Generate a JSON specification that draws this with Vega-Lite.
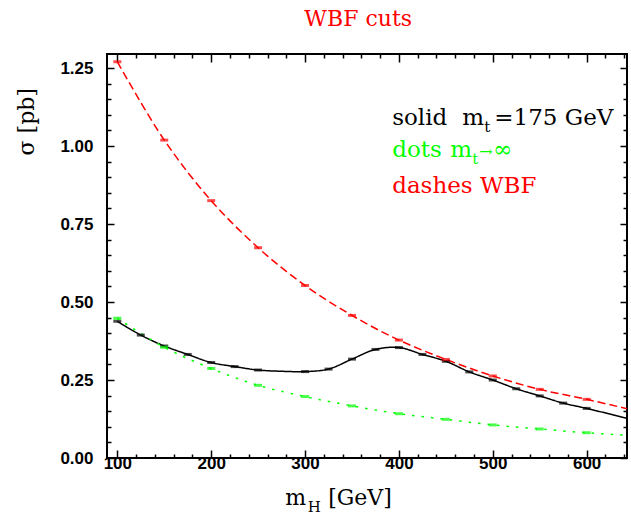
{
  "$schema": "https://vega.github.io/schema/vega-lite/v6.json",
  "width": 520,
  "height": 404,
  "autosize": {"type": "none"},
  "padding": {"left": 107, "top": 54, "right": 4, "bottom": 58},
  "background": "white",
  "config": {
    "view": {"stroke": "black", "strokeWidth": 2},
    "axis": {"grid": false, "domain": false, "tickColor": "black", "tickWidth": 1.5, "labelColor": "black", "labelFont": "Liberation Sans", "labelFontWeight": "bold", "labelFontSize": 17, "labelOverlap": false, "labelFlush": false, "title": null}
  },
  "datasets": {
    "curves": [
      {"m": 100, "s": 0.438, "series": "solid", "marker": true},
      {"m": 125, "s": 0.394, "series": "solid", "marker": true},
      {"m": 150, "s": 0.359, "series": "solid", "marker": true},
      {"m": 175, "s": 0.332, "series": "solid", "marker": true},
      {"m": 200, "s": 0.306, "series": "solid", "marker": true},
      {"m": 225, "s": 0.293, "series": "solid", "marker": true},
      {"m": 250, "s": 0.282, "series": "solid", "marker": true},
      {"m": 275, "s": 0.278, "series": "solid", "marker": false},
      {"m": 300, "s": 0.277, "series": "solid", "marker": true},
      {"m": 325, "s": 0.285, "series": "solid", "marker": true},
      {"m": 350, "s": 0.317, "series": "solid", "marker": true},
      {"m": 375, "s": 0.348, "series": "solid", "marker": true},
      {"m": 400, "s": 0.354, "series": "solid", "marker": true},
      {"m": 425, "s": 0.332, "series": "solid", "marker": true},
      {"m": 450, "s": 0.310, "series": "solid", "marker": true},
      {"m": 475, "s": 0.276, "series": "solid", "marker": true},
      {"m": 500, "s": 0.250, "series": "solid", "marker": true},
      {"m": 525, "s": 0.222, "series": "solid", "marker": true},
      {"m": 550, "s": 0.199, "series": "solid", "marker": true},
      {"m": 575, "s": 0.176, "series": "solid", "marker": true},
      {"m": 600, "s": 0.159, "series": "solid", "marker": true},
      {"m": 650, "s": 0.122, "series": "solid", "marker": false},
      {"m": 100, "s": 0.448, "series": "dots", "marker": true},
      {"m": 150, "s": 0.355, "series": "dots", "marker": true},
      {"m": 200, "s": 0.287, "series": "dots", "marker": true},
      {"m": 250, "s": 0.233, "series": "dots", "marker": true},
      {"m": 300, "s": 0.197, "series": "dots", "marker": true},
      {"m": 350, "s": 0.167, "series": "dots", "marker": true},
      {"m": 400, "s": 0.142, "series": "dots", "marker": true},
      {"m": 450, "s": 0.124, "series": "dots", "marker": true},
      {"m": 500, "s": 0.106, "series": "dots", "marker": true},
      {"m": 550, "s": 0.093, "series": "dots", "marker": true},
      {"m": 600, "s": 0.081, "series": "dots", "marker": true},
      {"m": 650, "s": 0.072, "series": "dots", "marker": false},
      {"m": 100, "s": 1.270, "series": "dashes", "marker": true},
      {"m": 150, "s": 1.019, "series": "dashes", "marker": true},
      {"m": 200, "s": 0.825, "series": "dashes", "marker": true},
      {"m": 250, "s": 0.674, "series": "dashes", "marker": true},
      {"m": 300, "s": 0.553, "series": "dashes", "marker": true},
      {"m": 350, "s": 0.457, "series": "dashes", "marker": true},
      {"m": 400, "s": 0.378, "series": "dashes", "marker": true},
      {"m": 450, "s": 0.316, "series": "dashes", "marker": true},
      {"m": 500, "s": 0.263, "series": "dashes", "marker": true},
      {"m": 550, "s": 0.220, "series": "dashes", "marker": true},
      {"m": 600, "s": 0.188, "series": "dashes", "marker": true},
      {"m": 650, "s": 0.153, "series": "dashes", "marker": false}
    ],
    "legendText": [
      {"x": 392.8, "y": 1.066, "t": "solid", "series": "solid"},
      {"x": 467.5, "y": 1.066, "t": "m", "series": "solid"},
      {"x": 501.6, "y": 1.066, "t": "=175 GeV", "series": "solid"},
      {"x": 392.8, "y": 0.964, "t": "dots", "series": "dots"},
      {"x": 454.7, "y": 0.964, "t": "m", "series": "dots"},
      {"x": 500.5, "y": 0.964, "t": "∞", "series": "dots"},
      {"x": 392.8, "y": 0.848, "t": "dashes WBF", "series": "dashes"}
    ],
    "mainText": [
      {"x": 278.8, "y": -0.152, "t": "m", "series": "solid"},
      {"x": 324.6, "y": -0.152, "t": "[GeV]", "series": "solid"}
    ],
    "subText": [
      {"x": 490.9, "y": 1.066, "t": "t", "series": "solid"},
      {"x": 478.0, "y": 0.964, "t": "t", "series": "dots"},
      {"x": 303.0, "y": -0.152, "t": "H", "series": "solid"}
    ],
    "smallText": [
      {"x": 485.6, "y": 0.964, "t": "→", "series": "dots"}
    ],
    "yTitle": [
      {"x": 11.2, "y": 0.970, "t": "σ [pb]", "series": "solid"}
    ],
    "titleText": [
      {"x": 356.6, "y": 1.384, "t": "WBF cuts", "series": "dashes"}
    ]
  },
  "layer": [
    {
      "data": {"name": "curves"},
      "mark": {"type": "line", "interpolate": "catmull-rom", "strokeWidth": 1.5, "clip": true},
      "encoding": {
        "x": {"field": "m", "type": "quantitative", "scale": {"domain": [89, 643], "nice": false, "zero": false},
          "axis": {"orient": "bottom", "values": [100,120,140,160,180,200,220,240,260,280,300,320,340,360,380,400,420,440,460,480,500,520,540,560,580,600,620,640],
            "labelExpr": "datum.value % 100 === 0 ? datum.label : ''",
            "tickSize": {"condition": {"test": "datum.value % 100 === 0", "value": -8}, "value": -4},
            "labelPadding": 5}},
        "y": {"field": "s", "type": "quantitative", "scale": {"domain": [0, 1.295], "nice": false, "zero": false},
          "axis": {"orient": "left", "values": [0,0.05,0.1,0.15,0.2,0.25,0.3,0.35,0.4,0.45,0.5,0.55,0.6,0.65,0.7,0.75,0.8,0.85,0.9,0.95,1,1.05,1.1,1.15,1.2,1.25],
            "labelExpr": "abs(datum.value*4 - round(datum.value*4)) < 0.001 ? format(datum.value, '.2f') : ''",
            "tickSize": {"condition": {"test": "abs(datum.value*4 - round(datum.value*4)) < 0.001", "value": -7}, "value": -4},
            "labelPadding": 21}},
        "color": {"field": "series", "type": "nominal", "scale": {"domain": ["solid", "dots", "dashes"], "range": ["#000000", "#00ff00", "#ff0000"]}, "legend": null},
        "strokeDash": {"field": "series", "type": "nominal", "scale": {"domain": ["solid", "dots", "dashes"], "range": [[1, 0], [2.5, 7], [8, 4]]}, "legend": null}
      }
    },
    {
      "data": {"name": "curves"},
      "transform": [{"filter": "datum.marker"}],
      "mark": {"type": "tick", "orient": "horizontal", "size": 8, "thickness": 3, "clip": true},
      "encoding": {
        "x": {"field": "m", "type": "quantitative", "scale": {"domain": [89, 643], "nice": false, "zero": false},
          "axis": {"orient": "top", "values": [100,120,140,160,180,200,220,240,260,280,300,320,340,360,380,400,420,440,460,480,500,520,540,560,580,600,620,640],
            "labels": false,
            "tickSize": {"condition": {"test": "datum.value % 100 === 0", "value": -8}, "value": -4}}},
        "y": {"field": "s", "type": "quantitative", "scale": {"domain": [0, 1.295], "nice": false, "zero": false},
          "axis": {"orient": "right", "values": [0,0.05,0.1,0.15,0.2,0.25,0.3,0.35,0.4,0.45,0.5,0.55,0.6,0.65,0.7,0.75,0.8,0.85,0.9,0.95,1,1.05,1.1,1.15,1.2,1.25],
            "labels": false,
            "tickSize": {"condition": {"test": "abs(datum.value*4 - round(datum.value*4)) < 0.001", "value": -7}, "value": -4}}},
        "color": {"field": "series", "type": "nominal", "legend": null}
      }
    },
    {
      "data": {"name": "legendText"},
      "mark": {"type": "text", "font": "DejaVu Serif", "fontSize": 23, "align": "left", "baseline": "alphabetic"},
      "encoding": {
        "x": {"field": "x", "type": "quantitative", "axis": null},
        "y": {"field": "y", "type": "quantitative", "axis": null},
        "text": {"field": "t"},
        "color": {"field": "series", "type": "nominal", "legend": null}
      }
    },
    {
      "data": {"name": "mainText"},
      "mark": {"type": "text", "font": "DejaVu Serif", "fontSize": 22, "align": "left", "baseline": "alphabetic"},
      "encoding": {
        "x": {"field": "x", "type": "quantitative", "axis": null},
        "y": {"field": "y", "type": "quantitative", "axis": null},
        "text": {"field": "t"},
        "color": {"field": "series", "type": "nominal", "legend": null}
      }
    },
    {
      "data": {"name": "subText"},
      "mark": {"type": "text", "font": "DejaVu Serif", "fontSize": 15, "align": "left", "baseline": "alphabetic", "dy": 7},
      "encoding": {
        "x": {"field": "x", "type": "quantitative", "axis": null},
        "y": {"field": "y", "type": "quantitative", "axis": null},
        "text": {"field": "t"},
        "color": {"field": "series", "type": "nominal", "legend": null}
      }
    },
    {
      "data": {"name": "smallText"},
      "mark": {"type": "text", "font": "DejaVu Serif", "fontSize": 16, "align": "left", "baseline": "alphabetic"},
      "encoding": {
        "x": {"field": "x", "type": "quantitative", "axis": null},
        "y": {"field": "y", "type": "quantitative", "axis": null},
        "text": {"field": "t"},
        "color": {"field": "series", "type": "nominal", "legend": null}
      }
    },
    {
      "data": {"name": "yTitle"},
      "mark": {"type": "text", "font": "DejaVu Serif", "fontSize": 22, "align": "left", "baseline": "alphabetic", "angle": 270},
      "encoding": {
        "x": {"field": "x", "type": "quantitative", "axis": null},
        "y": {"field": "y", "type": "quantitative", "axis": null},
        "text": {"field": "t"},
        "color": {"field": "series", "type": "nominal", "legend": null}
      }
    },
    {
      "data": {"name": "titleText"},
      "mark": {"type": "text", "font": "DejaVu Serif", "fontSize": 22, "align": "center", "baseline": "alphabetic"},
      "encoding": {
        "x": {"field": "x", "type": "quantitative", "axis": null},
        "y": {"field": "y", "type": "quantitative", "axis": null},
        "text": {"field": "t"},
        "color": {"field": "series", "type": "nominal", "legend": null}
      }
    }
  ],
  "resolve": {"axis": {"x": "independent", "y": "independent"}}
}
